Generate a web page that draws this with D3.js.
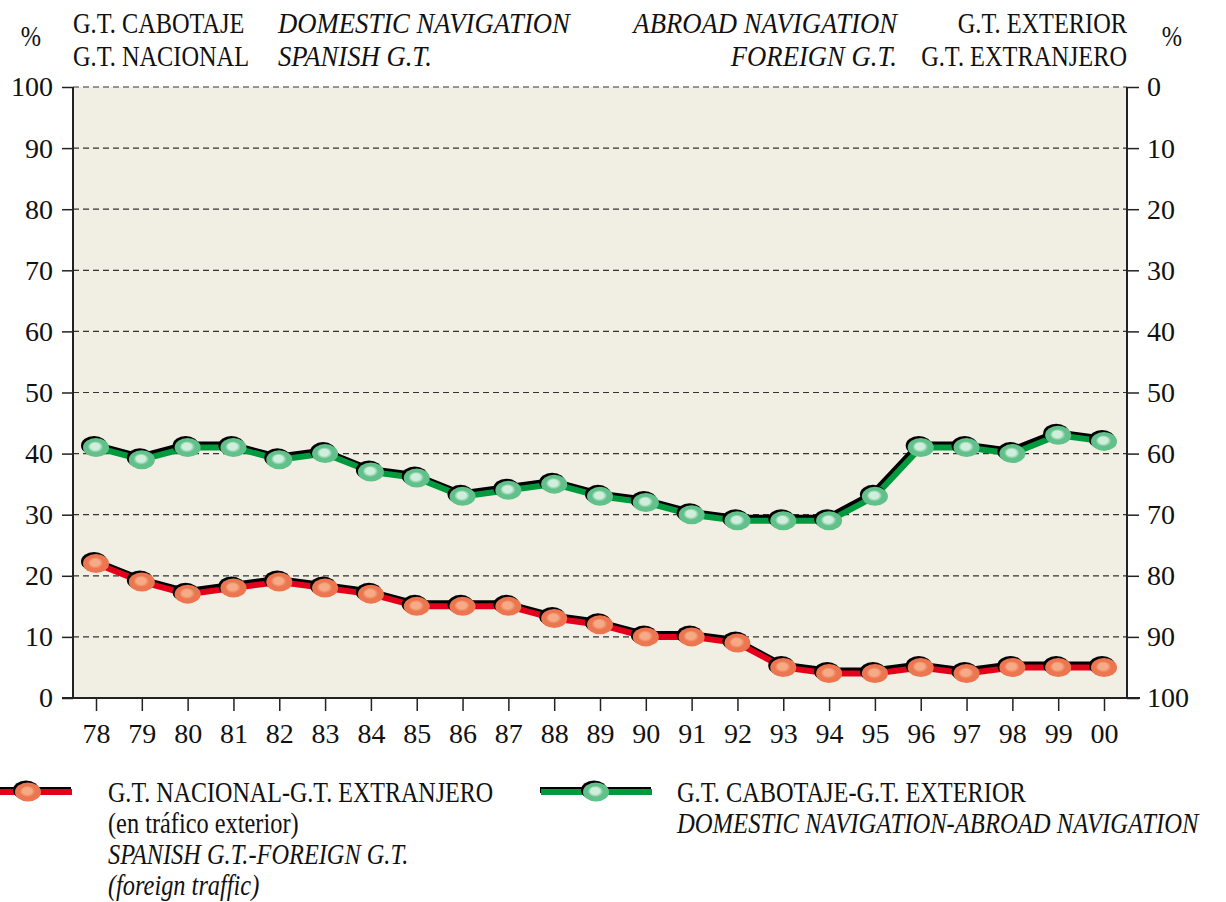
<!DOCTYPE html>
<html>
<head>
<meta charset="utf-8">
<script src="https://cdn.jsdelivr.net/npm/d3@7"></script>
<style>
body { margin: 0; background: #fff; }
</style>
</head>
<body>
<svg id="chart" width="1226" height="902" font-family="Liberation Serif"></svg>
<script>
var years = ['78','79','80','81','82','83','84','85','86','87','88','89','90','91','92','93','94','95','96','97','98','99','00']
var cabotaje = [41,39,41,41,39,40,37,36,33,34,35,33,32,30,29,29,29,33,41,41,40,43,42]
var nacional = [22,19,17,18,19,18,17,15,15,15,13,12,10,10,9,5,4,4,5,4,5,5,5]
var leftTicks = [0,10,20,30,40,50,60,70,80,90,100]

var FONT = 'Liberation Serif'
var svg = d3.select('#chart')
var m = {left: 73, right: 1127, top: 87, bottom: 698}

var x = d3.scalePoint().domain(years).range([96, 1104])
var y = d3.scaleLinear().domain([0, 100]).range([m.bottom, m.top])
var y2 = d3.scaleLinear().domain([100, 0]).range([m.bottom, m.top])

var defs = svg.append('defs')
function grad(id, outer, inner) {
    var g = defs.append('radialGradient').attr('id', id)
        .attr('cx', '0.5').attr('cy', '0.5').attr('r', '0.5')
        .attr('fx', '0.45').attr('fy', '0.42')
    g.append('stop').attr('offset', '0%').attr('stop-color', inner)
    g.append('stop').attr('offset', '35%').attr('stop-color', inner)
    g.append('stop').attr('offset', '60%').attr('stop-color', outer)
    g.append('stop').attr('offset', '100%').attr('stop-color', outer)
}
grad('redball', '#ec7650', '#f6ab87')
grad('greenball', '#62c08a', '#cfeedb')

svg.append('rect')
    .attr('x', m.left).attr('y', m.top)
    .attr('width', m.right - m.left).attr('height', m.bottom - m.top)
    .attr('fill', '#f1efe3')

// dashed grid
svg.selectAll('line.grid')
    .data(leftTicks.filter(function(d) { return d > 0; }))
    .enter().append('line')
    .attr('class', 'grid')
    .attr('x1', m.left).attr('x2', m.right)
    .attr('y1', function(d) { return y(d); }).attr('y2', function(d) { return y(d); })
    .attr('stroke', '#333').attr('stroke-width', 1.2)
    .attr('stroke-dasharray', '6,4')

// axes
var axL = svg.append('g').attr('transform', 'translate(' + m.left + ',0)')
    .call(d3.axisLeft(y).tickValues(leftTicks).tickSize(11).tickPadding(9))
var axR = svg.append('g').attr('transform', 'translate(' + m.right + ',0)')
    .call(d3.axisRight(y2).tickValues(leftTicks).tickSize(12).tickPadding(8))
var axB = svg.append('g').attr('transform', 'translate(0,' + m.bottom + ')')
    .call(d3.axisBottom(x).tickSize(13).tickPadding(8))
;[axL, axR, axB].forEach(function(a) {
    a.attr('font-family', FONT).attr('font-size', 28)
    a.select('.domain').remove()
    a.selectAll('line').attr('stroke', '#222').attr('stroke-width', 1.5)
    a.selectAll('text').attr('fill', '#111')
})
axB.selectAll('text').attr('dy', '0.85em')

svg.append('line').attr('x1', m.left).attr('x2', m.left).attr('y1', m.top).attr('y2', m.bottom)
    .attr('stroke', '#222').attr('stroke-width', 2)
svg.append('line').attr('x1', m.right).attr('x2', m.right).attr('y1', m.top).attr('y2', m.bottom)
    .attr('stroke', '#222').attr('stroke-width', 2)
svg.append('line').attr('x1', 62).attr('x2', 1140).attr('y1', m.bottom).attr('y2', m.bottom)
    .attr('stroke', '#222').attr('stroke-width', 2)

// series
var line = d3.line().x(function(d, i) { return x(years[i]); }).y(function(d) { return y(d); })
function series(vals, color, ball) {
    var g = svg.append('g')
    g.append('path').attr('d', line(vals)).attr('transform', 'translate(-2,-3)')
        .attr('fill', 'none').attr('stroke', '#000').attr('stroke-width', 6)
    g.append('path').attr('d', line(vals))
        .attr('fill', 'none').attr('stroke', color).attr('stroke-width', 6)
    g.selectAll('ellipse.sh').data(vals).enter().append('ellipse')
        .attr('cx', function(d, i) { return x(years[i]) - 2; })
        .attr('cy', function(d) { return y(d) - 2; })
        .attr('rx', 13).attr('ry', 9.5).attr('fill', '#000')
    g.selectAll('ellipse.b').data(vals).enter().append('ellipse')
        .attr('cx', function(d, i) { return x(years[i]); })
        .attr('cy', function(d) { return y(d); })
        .attr('rx', 13).attr('ry', 9.5).attr('fill', 'url(#' + ball + ')')
}
series(cabotaje, '#009a3e', 'greenball')
series(nacional, '#e4001b', 'redball')

// text in a narrow face: scale horizontally
function txt(t, xx, yy, anchor, italic, sx) {
    svg.append('text')
        .attr('transform', 'translate(' + xx + ',' + yy + ') scale(' + (sx || 0.84) + ',1)')
        .attr('font-size', 29).attr('font-family', FONT).attr('fill', '#111')
        .attr('text-anchor', anchor || 'start')
        .attr('font-style', italic ? 'italic' : 'normal').text(t)
}
txt('%', 31, 46, 'middle')
txt('%', 1172, 46, 'middle')
txt('G.T. CABOTAJE', 73, 33)
txt('G.T. NACIONAL', 73, 66)
txt('DOMESTIC NAVIGATION', 278, 33, 'start', true, 0.92)
txt('SPANISH G.T.', 278, 66, 'start', true, 0.92)
txt('ABROAD NAVIGATION', 897, 33, 'end', true, 0.92)
txt('FOREIGN G.T.', 897, 66, 'end', true, 0.92)
txt('G.T. EXTERIOR', 1127, 33, 'end')
txt('G.T. EXTRANJERO', 1127, 66, 'end')

// legend
function legendKey(x1, x2, cx, color, ball) {
    var yy = 792
    svg.append('line').attr('x1', x1 - 1).attr('x2', x2 - 1).attr('y1', yy - 2).attr('y2', yy - 2)
        .attr('stroke', '#000').attr('stroke-width', 6)
    svg.append('line').attr('x1', x1).attr('x2', x2).attr('y1', yy).attr('y2', yy)
        .attr('stroke', color).attr('stroke-width', 6)
    svg.append('ellipse').attr('cx', cx - 2).attr('cy', yy - 2).attr('rx', 13).attr('ry', 9.5).attr('fill', '#000')
    svg.append('ellipse').attr('cx', cx).attr('cy', yy).attr('rx', 13).attr('ry', 9.5).attr('fill', 'url(#' + ball + ')')
}
legendKey(0, 72, 28, '#e4001b', 'redball')
legendKey(541, 652, 596, '#009a3e', 'greenball')
txt('G.T. NACIONAL-G.T. EXTRANJERO', 108, 802, 'start', false, 0.83)
txt('(en tráfico exterior)', 108, 833)
txt('SPANISH G.T.-FOREIGN G.T.', 108, 864, 'start', true)
txt('(foreign traffic)', 108, 895, 'start', true)
txt('G.T. CABOTAJE-G.T. EXTERIOR', 677, 802)
txt('DOMESTIC NAVIGATION-ABROAD NAVIGATION', 677, 833, 'start', true, 0.85)
</script>
</body>
</html>
